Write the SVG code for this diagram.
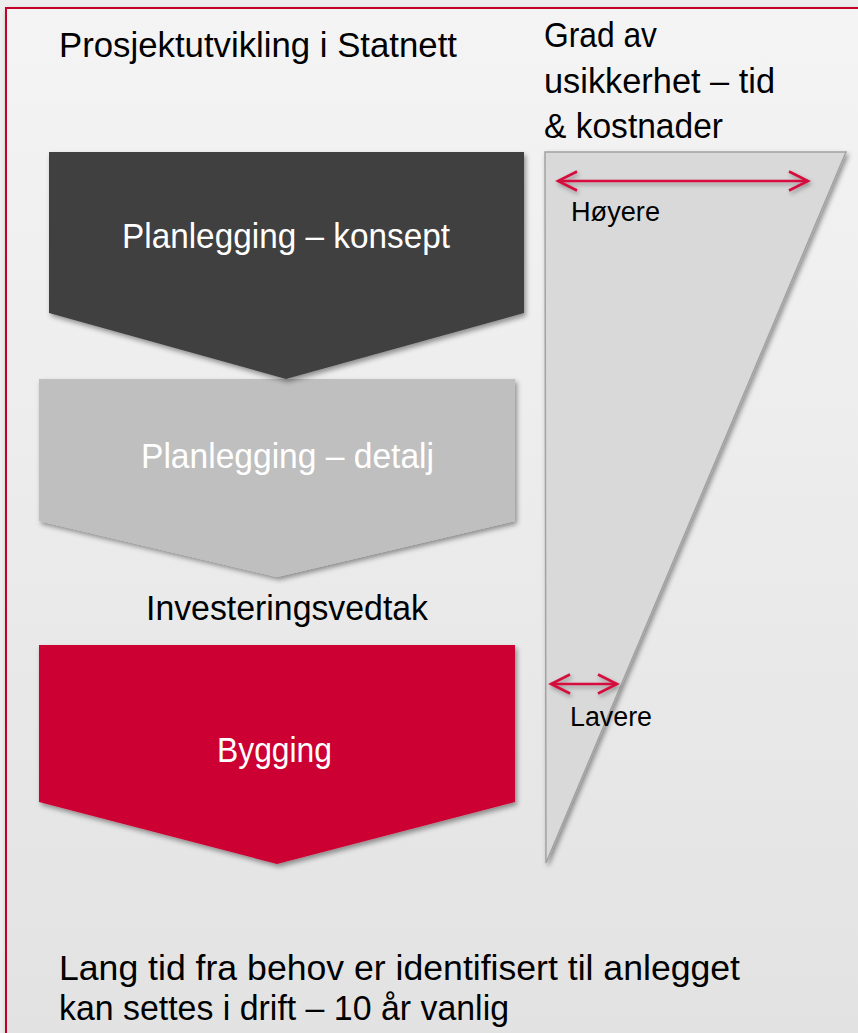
<svg xmlns="http://www.w3.org/2000/svg" width="858" height="1033" viewBox="0 0 858 1033">
  <defs>
    <linearGradient id="bg" x1="0" y1="0" x2="0" y2="1">
      <stop offset="0" stop-color="#f4f4f4"/>
      <stop offset="1" stop-color="#e1e1e1"/>
    </linearGradient>
    <filter id="sh" x="-10%" y="-10%" width="130%" height="130%">
      <feDropShadow dx="2" dy="3" stdDeviation="2.5" flood-color="#000" flood-opacity="0.4"/>
    </filter>
    <filter id="shs" x="-20%" y="-100%" width="140%" height="300%">
      <feDropShadow dx="1.5" dy="2.5" stdDeviation="2" flood-color="#000" flood-opacity="0.35"/>
    </filter>
    <marker id="ah" viewBox="0 0 22 22" refX="20" refY="11" markerWidth="22" markerHeight="22" markerUnits="userSpaceOnUse" orient="auto-start-reverse" overflow="visible">
      <path d="M1,1.5 L20,11 L1,20.5" fill="none" stroke="#d4113e" stroke-width="2.6" stroke-linejoin="miter"/>
    </marker>
  </defs>
  <style>
    text { font-family: "Liberation Sans", Arial, sans-serif; font-size: 35px; fill: #000; }
    .w { fill: #ffffff; }
    .sm { font-size: 27px; }
    .arr { stroke: #d4113e; stroke-width: 2.6; fill: none; }
  </style>

  <rect x="0" y="0" width="858" height="1033" fill="#ededed"/>
  <g id="frame" filter="url(#sh)">
    <rect x="6" y="8" width="900" height="1100" fill="url(#bg)" stroke="#c4002c" stroke-width="2"/>
  </g>

  <text id="title" x="59" y="57" textLength="398" lengthAdjust="spacingAndGlyphs">Prosjektutvikling i Statnett</text>

  <g id="uncertainty-label">
    <text x="544" y="47" textLength="113" lengthAdjust="spacingAndGlyphs">Grad av</text>
    <text x="544" y="93" textLength="231" lengthAdjust="spacingAndGlyphs">usikkerhet – tid</text>
    <text x="544" y="138" textLength="179" lengthAdjust="spacingAndGlyphs">&amp; kostnader</text>
  </g>

  <g id="triangle">
    <polygon points="545,152 846,152 546,863" fill="#d9d9d9" stroke="#a3a3a3" stroke-width="1.5" filter="url(#sh)"/>
  </g>

  <g id="detalj">
    <polygon points="39,379 515,379 515,521 277,577 39,521" fill="#bfbfbf" filter="url(#sh)"/>
    <text class="w" x="141" y="468" textLength="293" lengthAdjust="spacingAndGlyphs">Planlegging – detalj</text>
  </g>

  <g id="konsept">
    <polygon points="49,152 524,152 524,313 286,379 49,313" fill="#404040" filter="url(#sh)"/>
    <text class="w" x="122" y="248" textLength="328" lengthAdjust="spacingAndGlyphs">Planlegging – konsept</text>
  </g>

  <g id="investeringsvedtak">
    <text x="146" y="620" textLength="282" lengthAdjust="spacingAndGlyphs">Investeringsvedtak</text>
  </g>

  <g id="bygging">
    <polygon points="39,645 515,645 515,802 277,864 39,802" fill="#cc0033" filter="url(#sh)"/>
    <text class="w" x="217" y="762" textLength="115" lengthAdjust="spacingAndGlyphs">Bygging</text>
  </g>

  <g id="connectors" filter="url(#shs)">
    <line class="arr" x1="558" y1="181" x2="808" y2="181" marker-start="url(#ah)" marker-end="url(#ah)"/>
    <line class="arr" x1="551" y1="684" x2="617" y2="684" marker-start="url(#ah)" marker-end="url(#ah)"/>
  </g>

  <g id="arrow-labels">
    <text class="sm" x="571" y="221" textLength="89" lengthAdjust="spacingAndGlyphs">Høyere</text>
    <text class="sm" x="570" y="726" textLength="82" lengthAdjust="spacingAndGlyphs">Lavere</text>
  </g>

  <g id="footer">
    <text x="59" y="980" textLength="681" lengthAdjust="spacingAndGlyphs">Lang tid fra behov er identifisert til anlegget</text>
    <text x="59" y="1020" textLength="450" lengthAdjust="spacingAndGlyphs">kan settes i drift – 10 år vanlig</text>
  </g>
</svg>
